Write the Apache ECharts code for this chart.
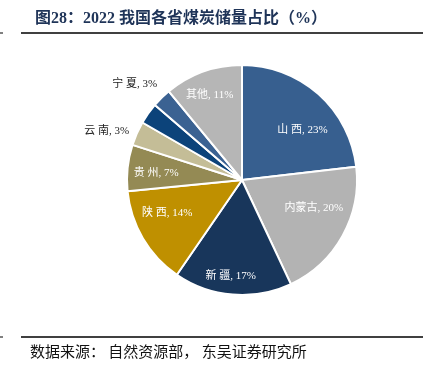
<!DOCTYPE html>
<html>
<head>
<meta charset="utf-8">
<script src="https://cdn.jsdelivr.net/npm/echarts@6/dist/echarts.min.js"></script>
<style>
html, body { margin: 0; padding: 0; background: #fff; }
#main { width: 426px; height: 367px; }
</style>
</head>
<body>
<div id="main"></div>
<script>
// data (share of national coal reserves, %)
var provinces = ['山 西', '内蒙古', '新 疆', '陕 西', '贵 州', '云 南', '宁 夏', '', '其他'];
var shares = [23.2, 19.9, 16.6, 13.9, 6.5, 3.4, 3.0, 2.7, 11.0];

// styling per slice
var sliceColors = ['#375f8f', '#b3b3b3', '#18365b', '#bf9000', '#948a54', '#c4bd97', '#0c437a', '#3b6292', '#b6b6b6'];
var labelOutside = [false, false, false, false, false, true, true, false, false];
var labelRadius = [78, 77, 97, 82, 86, 144, 144, 0, 91];
var labelAngleShift = [9, -8, 2, 6.5, -1.5, -4, 6.5, 0, -1];

var pieCenter = [242, 180];
var pieRadius = 115;

var chartDom = document.getElementById('main');
var myChart = echarts.init(chartDom);

var total = shares.reduce(function (a, b) { return a + b; }, 0);
var midAngles = [];
var acc = 0;
for (var i = 0; i < shares.length; i++) {
    midAngles.push((acc + shares[i] / 2) / total * 360);
    acc += shares[i];
}

var pieData = provinces.map(function (name, i) {
    return {
        name: name,
        value: shares[i],
        itemStyle: { color: sliceColors[i] },
        label: {
            show: name !== '',
            color: labelOutside[i] ? '#222' : '#fff'
        }
    };
});

var option = {
    animation: false,
    title: {
        text: '图28：2022 我国各省煤炭储量占比（%）',
        left: 30,
        top: 6,
        textStyle: {
            color: '#1f3458',
            fontSize: 16,
            fontWeight: 'bold',
            fontFamily: '"Liberation Serif", "Noto Sans CJK SC", serif'
        }
    },
    graphic: [
        { type: 'line', shape: { x1: 21, y1: 33, x2: 423, y2: 33 }, style: { stroke: '#000', lineWidth: 1.5 } },
        { type: 'line', shape: { x1: 0, y1: 33, x2: 3, y2: 33 }, style: { stroke: '#000', lineWidth: 1 } },
        { type: 'line', shape: { x1: 21, y1: 337, x2: 423, y2: 337 }, style: { stroke: '#000', lineWidth: 1.5 } },
        { type: 'line', shape: { x1: 0, y1: 337, x2: 3, y2: 337 }, style: { stroke: '#000', lineWidth: 1 } },
        {
            type: 'text', left: 30, top: 344,
            style: {
                text: '数据来源： 自然资源部， 东吴证券研究所',
                fill: '#111',
                font: '15px "Noto Sans CJK SC", sans-serif'
            }
        }
    ],
    series: [
        {
            type: 'pie',
            center: pieCenter,
            radius: pieRadius,
            startAngle: 90,
            clockwise: true,
            avoidLabelOverlap: false,
            itemStyle: { borderColor: '#fff', borderWidth: 2 },
            label: {
                position: 'inside',
                fontSize: 11,
                fontFamily: '"Liberation Serif", "Noto Sans CJK SC", serif',
                formatter: function (p) {
                    return p.name + ', ' + Math.round(p.value) + '%';
                }
            },
            labelLine: { show: false },
            labelLayout: function (params) {
                var i = params.dataIndex;
                var a = (midAngles[i] + labelAngleShift[i]) * Math.PI / 180;
                return {
                    x: pieCenter[0] + labelRadius[i] * Math.sin(a),
                    y: pieCenter[1] - labelRadius[i] * Math.cos(a),
                    align: 'center',
                    verticalAlign: 'middle'
                };
            },
            data: pieData
        }
    ]
};

option && myChart.setOption(option);
</script>
</body>
</html>
